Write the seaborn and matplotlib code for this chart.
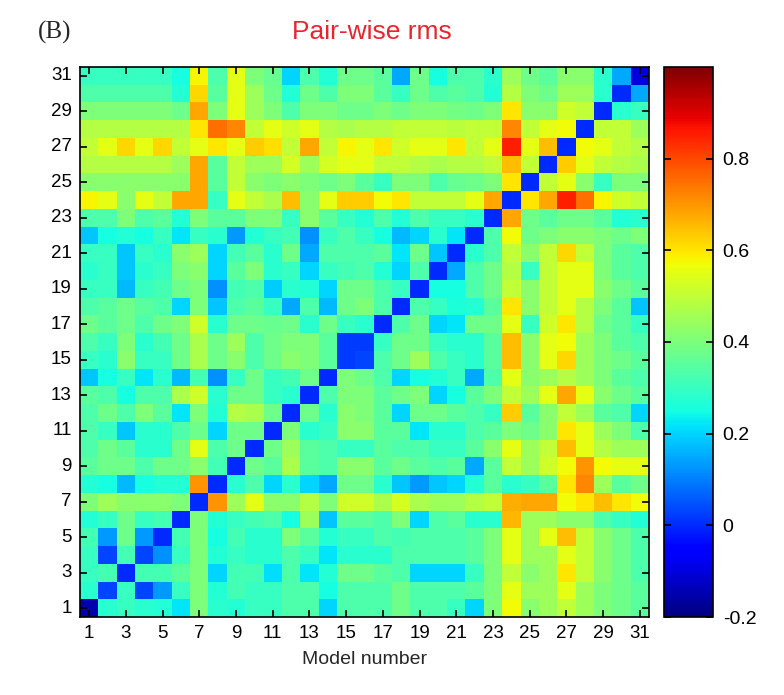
import numpy as np
import pandas as pd
import seaborn as sns
import matplotlib
matplotlib.use("Agg")
import matplotlib.pyplot as plt
from matplotlib.ticker import FuncFormatter

# model numbers along both axes
models = list(range(1, 32))

# pair-wise rms, one row per model (row 1 = model 1), columns = models 1..31
rms_rows = [
    [-0.15, 0.28, 0.30, 0.28, 0.27, 0.22, 0.40, 0.28, 0.27, 0.30, 0.30, 0.33, 0.33, 0.20, 0.33, 0.33, 0.33, 0.38, 0.33, 0.33, 0.30, 0.20, 0.40, 0.57, 0.42, 0.45, 0.50, 0.45, 0.40, 0.38, 0.35],
    [0.28, 0.03, 0.30, 0.03, 0.13, 0.30, 0.40, 0.27, 0.32, 0.30, 0.30, 0.33, 0.33, 0.25, 0.33, 0.33, 0.33, 0.38, 0.33, 0.33, 0.33, 0.35, 0.40, 0.55, 0.45, 0.45, 0.55, 0.45, 0.40, 0.38, 0.35],
    [0.30, 0.32, 0.00, 0.32, 0.32, 0.35, 0.40, 0.20, 0.32, 0.32, 0.21, 0.33, 0.22, 0.27, 0.38, 0.38, 0.35, 0.33, 0.20, 0.20, 0.20, 0.30, 0.40, 0.50, 0.42, 0.45, 0.60, 0.50, 0.42, 0.38, 0.33],
    [0.30, 0.03, 0.32, 0.03, 0.12, 0.30, 0.40, 0.27, 0.30, 0.28, 0.28, 0.33, 0.30, 0.22, 0.28, 0.28, 0.28, 0.33, 0.33, 0.33, 0.33, 0.35, 0.40, 0.55, 0.45, 0.45, 0.55, 0.50, 0.42, 0.38, 0.33],
    [0.32, 0.13, 0.38, 0.13, 0.00, 0.32, 0.40, 0.25, 0.32, 0.28, 0.28, 0.40, 0.35, 0.27, 0.30, 0.30, 0.33, 0.32, 0.33, 0.33, 0.33, 0.35, 0.40, 0.55, 0.45, 0.55, 0.65, 0.50, 0.42, 0.38, 0.33],
    [0.27, 0.30, 0.38, 0.30, 0.32, 0.00, 0.40, 0.27, 0.30, 0.32, 0.33, 0.25, 0.45, 0.18, 0.35, 0.35, 0.33, 0.40, 0.20, 0.33, 0.35, 0.28, 0.28, 0.66, 0.45, 0.45, 0.42, 0.42, 0.33, 0.30, 0.27],
    [0.40, 0.45, 0.42, 0.42, 0.42, 0.40, 0.00, 0.70, 0.45, 0.55, 0.42, 0.42, 0.48, 0.40, 0.52, 0.52, 0.47, 0.53, 0.47, 0.45, 0.45, 0.48, 0.50, 0.67, 0.68, 0.68, 0.57, 0.60, 0.65, 0.60, 0.57],
    [0.27, 0.25, 0.17, 0.25, 0.27, 0.27, 0.70, 0.00, 0.28, 0.33, 0.20, 0.28, 0.20, 0.15, 0.38, 0.38, 0.28, 0.18, 0.13, 0.18, 0.20, 0.27, 0.35, 0.28, 0.30, 0.35, 0.60, 0.72, 0.45, 0.35, 0.38],
    [0.35, 0.38, 0.38, 0.33, 0.38, 0.38, 0.42, 0.32, 0.00, 0.38, 0.35, 0.47, 0.35, 0.33, 0.42, 0.42, 0.35, 0.38, 0.35, 0.33, 0.35, 0.15, 0.35, 0.50, 0.45, 0.52, 0.57, 0.70, 0.57, 0.55, 0.55],
    [0.33, 0.38, 0.35, 0.28, 0.28, 0.38, 0.55, 0.33, 0.38, 0.00, 0.38, 0.45, 0.35, 0.33, 0.30, 0.30, 0.35, 0.33, 0.33, 0.30, 0.30, 0.35, 0.42, 0.55, 0.45, 0.50, 0.65, 0.55, 0.48, 0.45, 0.45],
    [0.33, 0.30, 0.18, 0.28, 0.28, 0.33, 0.38, 0.20, 0.38, 0.38, 0.00, 0.40, 0.28, 0.30, 0.42, 0.42, 0.35, 0.35, 0.22, 0.28, 0.28, 0.33, 0.35, 0.40, 0.38, 0.42, 0.60, 0.55, 0.45, 0.40, 0.33],
    [0.33, 0.38, 0.33, 0.40, 0.35, 0.22, 0.40, 0.27, 0.48, 0.47, 0.38, 0.00, 0.38, 0.28, 0.42, 0.40, 0.35, 0.20, 0.38, 0.38, 0.35, 0.33, 0.30, 0.63, 0.35, 0.42, 0.50, 0.45, 0.35, 0.33, 0.20],
    [0.35, 0.33, 0.25, 0.33, 0.33, 0.47, 0.52, 0.28, 0.38, 0.38, 0.30, 0.28, 0.00, 0.33, 0.40, 0.40, 0.35, 0.38, 0.40, 0.20, 0.25, 0.35, 0.40, 0.50, 0.45, 0.55, 0.68, 0.55, 0.42, 0.38, 0.35],
    [0.18, 0.25, 0.30, 0.22, 0.28, 0.17, 0.32, 0.12, 0.30, 0.38, 0.30, 0.32, 0.38, 0.00, 0.40, 0.38, 0.33, 0.20, 0.25, 0.27, 0.30, 0.15, 0.33, 0.55, 0.42, 0.45, 0.48, 0.45, 0.40, 0.35, 0.33],
    [0.30, 0.28, 0.42, 0.30, 0.30, 0.38, 0.47, 0.38, 0.42, 0.33, 0.38, 0.42, 0.40, 0.35, 0.02, 0.03, 0.33, 0.38, 0.45, 0.33, 0.30, 0.28, 0.35, 0.65, 0.42, 0.55, 0.62, 0.45, 0.40, 0.38, 0.35],
    [0.33, 0.30, 0.40, 0.28, 0.32, 0.38, 0.47, 0.38, 0.45, 0.33, 0.38, 0.40, 0.40, 0.35, 0.02, 0.02, 0.30, 0.38, 0.38, 0.30, 0.28, 0.28, 0.35, 0.65, 0.42, 0.55, 0.57, 0.45, 0.40, 0.35, 0.33],
    [0.38, 0.35, 0.38, 0.33, 0.38, 0.40, 0.52, 0.28, 0.38, 0.38, 0.37, 0.38, 0.28, 0.38, 0.30, 0.28, 0.00, 0.33, 0.38, 0.20, 0.22, 0.38, 0.38, 0.55, 0.30, 0.52, 0.60, 0.48, 0.38, 0.35, 0.30],
    [0.33, 0.35, 0.38, 0.35, 0.33, 0.20, 0.40, 0.18, 0.33, 0.35, 0.30, 0.15, 0.33, 0.17, 0.38, 0.40, 0.33, 0.00, 0.33, 0.30, 0.26, 0.27, 0.35, 0.60, 0.42, 0.50, 0.55, 0.48, 0.40, 0.35, 0.18],
    [0.30, 0.30, 0.17, 0.30, 0.32, 0.38, 0.40, 0.12, 0.32, 0.33, 0.19, 0.28, 0.27, 0.20, 0.38, 0.38, 0.33, 0.30, 0.00, 0.25, 0.25, 0.33, 0.38, 0.50, 0.42, 0.50, 0.55, 0.55, 0.42, 0.38, 0.35],
    [0.28, 0.30, 0.18, 0.28, 0.30, 0.40, 0.42, 0.20, 0.35, 0.40, 0.28, 0.30, 0.20, 0.30, 0.32, 0.33, 0.27, 0.20, 0.33, 0.00, 0.15, 0.33, 0.38, 0.48, 0.30, 0.50, 0.55, 0.55, 0.40, 0.35, 0.33],
    [0.30, 0.30, 0.18, 0.30, 0.28, 0.42, 0.45, 0.20, 0.32, 0.35, 0.28, 0.38, 0.15, 0.33, 0.33, 0.33, 0.35, 0.22, 0.38, 0.18, 0.00, 0.28, 0.33, 0.50, 0.42, 0.50, 0.62, 0.50, 0.40, 0.35, 0.33],
    [0.18, 0.25, 0.27, 0.25, 0.30, 0.22, 0.30, 0.28, 0.13, 0.27, 0.30, 0.32, 0.12, 0.30, 0.33, 0.30, 0.25, 0.17, 0.20, 0.28, 0.22, 0.00, 0.33, 0.57, 0.38, 0.40, 0.42, 0.42, 0.40, 0.38, 0.40],
    [0.33, 0.33, 0.40, 0.33, 0.35, 0.27, 0.40, 0.35, 0.35, 0.40, 0.40, 0.30, 0.42, 0.35, 0.30, 0.27, 0.33, 0.27, 0.33, 0.30, 0.30, 0.28, 0.00, 0.68, 0.38, 0.35, 0.38, 0.38, 0.35, 0.27, 0.28],
    [0.58, 0.55, 0.42, 0.55, 0.50, 0.68, 0.68, 0.30, 0.55, 0.50, 0.47, 0.65, 0.42, 0.55, 0.63, 0.63, 0.57, 0.60, 0.50, 0.50, 0.50, 0.55, 0.68, 0.00, 0.60, 0.68, 0.85, 0.75, 0.58, 0.52, 0.50],
    [0.42, 0.42, 0.42, 0.42, 0.42, 0.42, 0.68, 0.35, 0.50, 0.42, 0.40, 0.42, 0.40, 0.38, 0.40, 0.35, 0.30, 0.40, 0.40, 0.33, 0.37, 0.38, 0.40, 0.60, 0.00, 0.50, 0.55, 0.42, 0.30, 0.40, 0.40],
    [0.48, 0.48, 0.48, 0.48, 0.48, 0.45, 0.68, 0.35, 0.50, 0.45, 0.45, 0.53, 0.45, 0.53, 0.55, 0.55, 0.50, 0.50, 0.48, 0.47, 0.48, 0.48, 0.50, 0.65, 0.50, 0.00, 0.63, 0.55, 0.50, 0.48, 0.47],
    [0.50, 0.55, 0.62, 0.55, 0.62, 0.50, 0.55, 0.60, 0.55, 0.63, 0.61, 0.50, 0.68, 0.50, 0.58, 0.55, 0.60, 0.52, 0.55, 0.55, 0.60, 0.50, 0.55, 0.85, 0.55, 0.65, 0.00, 0.57, 0.55, 0.50, 0.48],
    [0.48, 0.48, 0.48, 0.48, 0.48, 0.48, 0.60, 0.75, 0.72, 0.50, 0.55, 0.52, 0.55, 0.48, 0.47, 0.48, 0.48, 0.50, 0.50, 0.50, 0.49, 0.50, 0.50, 0.72, 0.50, 0.55, 0.57, 0.00, 0.50, 0.50, 0.45],
    [0.40, 0.40, 0.40, 0.40, 0.40, 0.38, 0.68, 0.40, 0.55, 0.45, 0.40, 0.33, 0.40, 0.40, 0.38, 0.38, 0.40, 0.38, 0.40, 0.40, 0.39, 0.38, 0.40, 0.60, 0.42, 0.42, 0.52, 0.50, 0.00, 0.28, 0.30],
    [0.33, 0.33, 0.33, 0.33, 0.33, 0.27, 0.62, 0.35, 0.55, 0.45, 0.38, 0.27, 0.38, 0.33, 0.40, 0.40, 0.35, 0.30, 0.38, 0.33, 0.35, 0.33, 0.27, 0.48, 0.40, 0.38, 0.45, 0.45, 0.28, 0.00, 0.15],
    [0.30, 0.30, 0.30, 0.30, 0.30, 0.25, 0.58, 0.33, 0.55, 0.40, 0.37, 0.20, 0.33, 0.27, 0.38, 0.38, 0.35, 0.15, 0.38, 0.25, 0.33, 0.33, 0.28, 0.45, 0.38, 0.35, 0.42, 0.42, 0.28, 0.15, -0.10],
]

cbar_ticks = [-0.2, 0, 0.2, 0.4, 0.6, 0.8]

# matrix with model 31 on top, model 1 at the bottom
df = pd.DataFrame(rms_rows, index=models, columns=models).iloc[::-1]

sns.set_style("white")
plt.rcParams["font.family"] = ["Liberation Sans", "DejaVu Sans"]

fig = plt.figure(figsize=(7.84, 6.95), dpi=100)
ax = fig.add_axes([80 / 784, 1 - 617 / 695, 569 / 784, 550 / 695])
cax = fig.add_axes([664 / 784, 1 - 617 / 695, 49 / 784, 550 / 695])

sns.heatmap(df, ax=ax, cbar_ax=cax, cmap="jet", vmin=-0.2, vmax=1.0,
            xticklabels=2, yticklabels=2, square=False)

# matlab-like box with inward ticks on all four sides
ax.set_axisbelow(False)
ax.tick_params(direction="in", length=5, width=1.2, bottom=True, left=True,
               top=True, right=True, labelsize=13.5, colors="black", pad=6)
ax.set_xticklabels(ax.get_xticklabels(), rotation=0)
ax.set_yticklabels(ax.get_yticklabels(), rotation=0)
ax.set_xlabel("Model number", fontsize=14, labelpad=6)
ax.set_ylabel("")
for sp in ax.spines.values():
    sp.set_visible(True)
    sp.set_color("black")
    sp.set_linewidth(1.2)

cbar = ax.collections[0].colorbar
cbar.set_ticks(cbar_ticks)
cbar.ax.set_axisbelow(False)
cbar.ax.yaxis.set_major_formatter(FuncFormatter(lambda v, p: "0" if abs(v) < 1e-9 else f"{v:g}"))
cbar.ax.tick_params(direction="in", length=5, width=1.2, left=True, right=True,
                    labelsize=14, pad=7, colors="black")
cbar.outline.set_visible(True)
cbar.outline.set_edgecolor("black")
cbar.outline.set_linewidth(1.2)

fig.text(372 / 784, 1 - 32 / 695, "Pair-wise rms", color="#e8252d", fontsize=19,
         ha="center", va="center")
fig.text(38 / 784, 1 - 32 / 695, "(B)", fontsize=18, family="Liberation Serif",
         ha="left", va="center")

fig.savefig("out.png", dpi=100)
